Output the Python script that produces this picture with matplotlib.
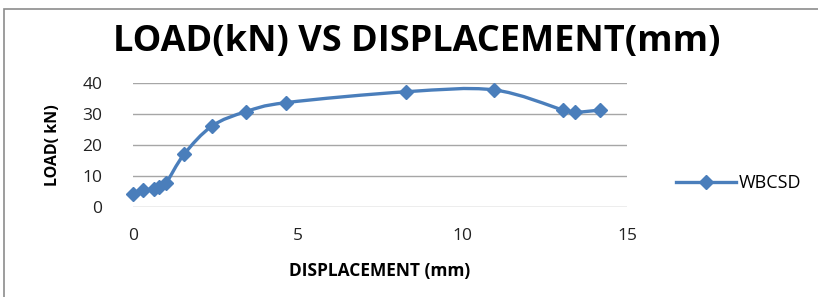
import numpy as np
import matplotlib
matplotlib.use("Agg")
import matplotlib.pyplot as plt
from matplotlib.path import Path
from matplotlib.patches import PathPatch, Rectangle
from matplotlib.lines import Line2D

# WBCSD load-displacement readings
displacement = [0.0, 0.3, 0.65, 0.8, 1.0, 1.55, 2.4, 3.43, 4.65, 8.3, 10.95, 13.07, 13.42, 14.17]
load = [4.3, 5.4, 6.0, 6.6, 7.7, 17.0, 26.1, 30.7, 33.6, 37.1, 37.7, 31.2, 30.5, 31.2]

x_ticks = [0, 5, 10, 15]
y_ticks = [0, 10, 20, 30, 40]
LINE_COLOR = "#4a7ebb"
FONT = ["Open Sans", "DejaVu Sans"]


def smooth_path(x, y, t=1 / 6):
    """Catmull-Rom style bezier path through points (like Excel smoothed line)."""
    pts = np.column_stack([x, y]).astype(float)
    verts = [pts[0]]
    codes = [Path.MOVETO]
    n = len(pts)
    for i in range(n - 1):
        p0 = pts[i - 1] if i > 0 else pts[i]
        p1, p2 = pts[i], pts[i + 1]
        p3 = pts[i + 2] if i + 2 < n else pts[i + 1]
        c1 = p1 + (p2 - p0) * t
        c2 = p2 - (p3 - p1) * t
        verts += [c1, c2, p2]
        codes += [Path.CURVE4] * 3
    return Path(verts, codes)


fig = plt.figure(figsize=(8.18, 2.97), dpi=100)
fig.patches.append(Rectangle((4 / 818, -0.1), 1.1, 1 - 9 / 297 + 0.1, transform=fig.transFigure,
                             fill=False, edgecolor="#8c8c8c", linewidth=1.2))

ax = fig.add_axes([133 / 818, 89.7 / 297, 494 / 818, 124.6 / 297])
ax.set_xlim(0, 15)
ax.set_ylim(0, 40)
ax.set_xticks(x_ticks)
ax.set_yticks(y_ticks)
ax.yaxis.grid(True, color="#a6a6a6", linewidth=1)
ax.set_axisbelow(True)
for s in ax.spines.values():
    s.set_visible(False)
ax.tick_params(length=0, labelsize=12.5, colors="#222222")
ax.tick_params(axis="x", pad=15)
ax.tick_params(axis="y", pad=22)
for lab in ax.get_xticklabels() + ax.get_yticklabels():
    lab.set_family(FONT)

ax.add_patch(PathPatch(smooth_path(displacement, load), fill=False, edgecolor=LINE_COLOR,
                       linewidth=2.4, clip_on=False))
ax.plot(displacement, load, linestyle="none", marker="D", markersize=7.5, color=LINE_COLOR,
        clip_on=False, zorder=3)

ax.set_xlabel("DISPLACEMENT (mm)", fontsize=12.5, fontweight="bold", family=FONT, va="center")
ax.xaxis.set_label_coords(0.5, (207.3 - 271) / 124.6)
ax.set_ylabel("LOAD( kN)", fontsize=11.5, fontweight="bold", family=FONT, va="center")
ax.yaxis.set_label_coords((53 - 133) / 494, 0.5)
fig.text(417 / 818, 1 - 42 / 297, "LOAD(kN) VS DISPLACEMENT(mm)", ha="center", va="center",
         fontsize=26, fontweight="bold", family=FONT)

handle = Line2D([], [], color=LINE_COLOR, linewidth=2.4, marker="D", markersize=7.5)
fig.legend([handle], ["WBCSD"], loc="center left", bbox_to_anchor=(667 / 818, 1 - 183 / 297),
           frameon=False, prop={"family": FONT, "size": 13}, handlelength=3.3,
           handletextpad=0.2, borderpad=0)

fig.savefig("out.png", dpi=100)
